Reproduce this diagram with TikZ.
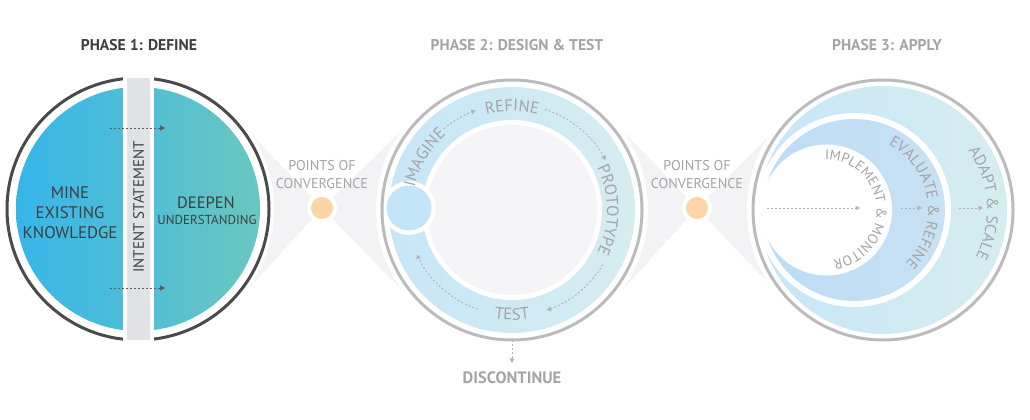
\documentclass[tikz,border=0pt]{standalone}
\usepackage{fontspec}
\setmainfont{PT Sans}
\usetikzlibrary{arrows.meta,decorations.text}
\definecolor{pone}{HTML}{3E3E40}
\definecolor{ringdark}{HTML}{4A4A4C}
\definecolor{ringgray}{HTML}{BBBBBD}
\definecolor{txtgray}{HTML}{A4A4A6}
\definecolor{wedgegray}{HTML}{F3F3F5}
\definecolor{orangedot}{HTML}{FBD6A4}
\definecolor{barfill}{HTML}{E1E2E6}
\definecolor{pblueL}{HTML}{36B5EA}
\definecolor{pblueR}{HTML}{6AC7C0}
\definecolor{bandL}{HTML}{C7E6F8}
\definecolor{bandR}{HTML}{D6EDEF}
\definecolor{midL}{HTML}{BCDBF6}
\definecolor{midR}{HTML}{C8E2F3}
\definecolor{innergray}{HTML}{F5F5F7}
\definecolor{smallc}{HTML}{C4E5F8}
\definecolor{arrgray}{HTML}{B2B2B4}
\definecolor{arrdark}{HTML}{5E5E60}
\tikzset{
  dotarrow/.style={draw=arrgray, line width=0.9pt, dash pattern=on 2pt off 2pt,
    -{Triangle[length=4.5pt,width=4.5pt]}},
  darkarrow/.style={draw=arrdark, line width=0.9pt, dash pattern=on 2pt off 2pt,
    -{Triangle[length=5pt,width=5pt]}},
  title/.style={font=\fontsize{15.6}{17}\selectfont\bfseries},
  conv/.style={font=\fontsize{14.2}{17.5}\selectfont, text=txtgray, align=center},
  curvetext/.style={decorate, decoration={text along path, text align=center, text={#1}}}
}
\begin{document}
\begin{tikzpicture}[x=1pt,y=1pt]
\useasboundingbox (0,0) rectangle (1030,420);
\fill[white] (0,0) rectangle (1030,420);

% ---------- wedges (points of convergence) ----------
\fill[wedgegray] (250,287) -- (322,212) -- (250,133) -- cycle;
\fill[wedgegray] (399,287) -- (322,212) -- (399,133) -- cycle;
\fill[wedgegray] (625,287) -- (697,212) -- (625,133) -- cycle;
\fill[wedgegray] (772,287) -- (697,212) -- (772,133) -- cycle;

% ---------- PHASE 1 ----------
\fill[white] (138,211) circle[radius=136];
\draw[ringdark, line width=3pt] (138,211) circle[radius=131];
\shade[left color=pblueL, right color=pblueR] (138,211) circle[radius=122];
\fill[white] (123,60) rectangle (154,360);
\fill[barfill] (127,80) rectangle (150,342);
\node[rotate=90, font=\fontsize{15}{15}\selectfont, text=pone] (intent) at (138.5,213) {INTENT STATEMENT};
\node[font=\fontsize{16.8}{20}\selectfont, text=pone, align=center] (mine) at (70,207) {MINE\\EXISTING\\KNOWLEDGE};
\node[font=\fontsize{16.5}{16.5}\selectfont, text=pone] (deepen) at (206,217) {DEEPEN};
\node[font=\fontsize{13}{13}\selectfont, text=pone] (underst) at (207,200) {UNDERSTANDING};
\coordinate (p1a) at (110,292); \coordinate (p1b) at (165,292);
\coordinate (p1c) at (110,132); \coordinate (p1d) at (165,132);
\draw[darkarrow] (p1a) -- (p1b);
\draw[darkarrow] (p1c) -- (p1d);
\node[title, text=pone] (t1) at (139,374.5) {PHASE 1: DEFINE};

% ---------- convergence dots ----------
\fill[white] (322,212) circle[radius=15];
\fill[orangedot] (322,212) circle[radius=11];
\node[conv] (conv1) at (322,245.5) {POINTS OF\\CONVERGENCE};
\fill[white] (697,212) circle[radius=15];
\fill[orangedot] (697,212) circle[radius=11];
\node[conv] (conv2) at (697,245.5) {POINTS OF\\CONVERGENCE};

% ---------- PHASE 2 ----------
\fill[white] (512,210) circle[radius=136];
\shade[left color=bandL, right color=bandR] (512,210) circle[radius=123];
\fill[white] (512,210) circle[radius=90];
\fill[innergray] (512,210) circle[radius=85];
\fill[white] (409,212) circle[radius=27];
\fill[smallc] (409,212) circle[radius=22.5];
\draw[ringgray, line width=3pt] (512,210) circle[radius=130];
\begin{scope}[shift={(512,210)}]
  \draw[dotarrow] (130:106) arc[start angle=130, end angle=110, radius=106];
  \draw[dotarrow] (72:106) arc[start angle=72, end angle=28, radius=106];
  \draw[dotarrow] (-31:106) arc[start angle=-31, end angle=-71, radius=106];
  \draw[dotarrow] (-109:105) arc[start angle=-109, end angle=-155, radius=105];
  \path[curvetext={|\fontsize{16.5}{16.5}\selectfont\color{txtgray}|IMAGINE}]
     (194:100) arc[start angle=194, end angle=104, radius=100];
  \path[curvetext={|\fontsize{16.5}{16.5}\selectfont\color{txtgray}|REFINE}]
     (135:99) arc[start angle=135, end angle=45, radius=99];
  \path[curvetext={|\fontsize{16.5}{16.5}\selectfont\color{txtgray}|PROTOTYPE}]
     (50:95) arc[start angle=50, end angle=-50, radius=95];
  \path[curvetext={|\fontsize{16.5}{16.5}\selectfont\color{txtgray}|TEST}]
     (-135:110) arc[start angle=-135, end angle=-45, radius=110];
\end{scope}
\coordinate (dsa) at (512,80); \coordinate (dsb) at (512,57);
\draw[dotarrow] (dsa) -- (dsb);
\node[title, text=txtgray, font=\fontsize{16.5}{18}\selectfont\bfseries] (disc) at (512,42) {DISCONTINUE};
\node[title, text=txtgray] (t2) at (517,374.5) {PHASE 2: DESIGN \& TEST};

% ---------- PHASE 3 ----------
\fill[white] (883,210) circle[radius=136];
\draw[ringgray, line width=3pt] (883,210) circle[radius=130];
\shade[left color=bandL, right color=bandR] (883,210) circle[radius=124];
\fill[white] (854,210) circle[radius=97];
\shade[left color=midL, right color=midR] (854,210) circle[radius=91];
\fill[white] (826.5,210) circle[radius=65.5];
\coordinate (q1a) at (767,212); \coordinate (q1b) at (860,212);
\coordinate (q2a) at (901,212); \coordinate (q2b) at (922,212);
\coordinate (q3a) at (959,212); \coordinate (q3b) at (983,212);
\draw[dotarrow] (q1a) -- (q1b);
\draw[dotarrow] (q2a) -- (q2b);
\draw[dotarrow] (q3a) -- (q3b);
\begin{scope}[shift={(826.5,210)}]
  \path[curvetext={|\fontsize{14}{14}\selectfont\color{txtgray}|IMPLEMENT {\&} MONITOR}]
     (124.5:50) arc[start angle=124.5, end angle=-115.5, radius=50];
\end{scope}
\begin{scope}[shift={(854,210)}]
  \path[curvetext={|\fontsize{15.5}{15.5}\selectfont\color{txtgray}|EVALUATE {\&} REFINE}]
     (88:74) arc[start angle=88, end angle=-72, radius=74];
\end{scope}
\begin{scope}[shift={(883,210)}]
  \path[curvetext={|\fontsize{16}{16}\selectfont\color{txtgray}|ADAPT {\&} SCALE}]
     (54:104) arc[start angle=54, end angle=-46, radius=104];
\end{scope}
\node[title, text=txtgray] (t3) at (887,374.5) {PHASE 3: APPLY};
\end{tikzpicture}
\end{document}
